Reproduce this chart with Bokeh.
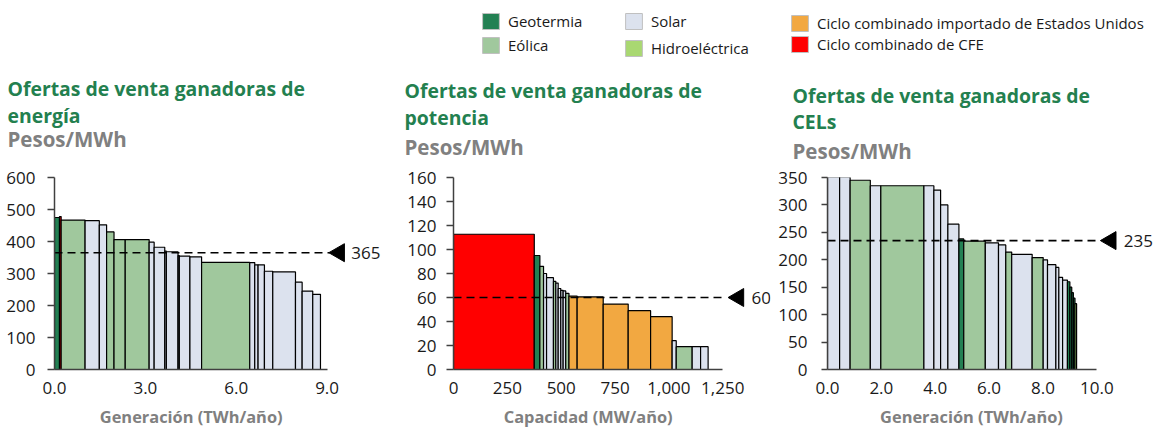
import math
import numpy as np
from bokeh.plotting import figure
from bokeh.models import (Label, Legend, LegendItem, FixedTicker, NumeralTickFormatter,
                          ColumnDataSource, Range1d)
from bokeh.layouts import column, row
from bokeh.embed import file_html
from bokeh.resources import INLINE

# ---------------- data ----------------
tech_names = ["Geotermia", "Eólica", "Solar", "Hidroeléctrica",
              "Ciclo combinado importado de Estados Unidos", "Ciclo combinado de CFE"]
tech_colors = ["#238053", "#A0C89D", "#DCE2EE", "#A9D871", "#F2A841", "#FF0000"]

# Energy (TWh/año vs Pesos/MWh)
e_width = [0.165, 0.055, 0.79, 0.47, 0.24, 0.245, 0.37, 0.79, 0.165, 0.35, 0.053, 0.385,
           0.043, 0.35, 0.385, 1.59, 0.165, 0.11, 0.21, 0.275, 0.75, 0.22, 0.35, 0.255]
e_price = [475, 478, 467, 465, 452, 430, 406, 406, 398, 382, 370, 368,
           356, 354, 352, 335, 334, 327, 327, 307, 305, 273, 245, 235]
e_tech = ["Geotermia", "Ciclo combinado de CFE", "Eólica", "Solar", "Solar", "Eólica", "Eólica",
          "Eólica", "Solar", "Solar", "Solar", "Solar", "Solar", "Solar", "Solar", "Eólica",
          "Solar", "Solar", "Solar", "Solar", "Solar", "Solar", "Solar", "Solar"]
e_ref = 365

# Capacity (MW/año vs Pesos/MWh)
c_width = [375, 26, 17, 14, 32, 11, 11, 12, 11, 12, 15, 38, 121, 116, 104, 100, 19, 74, 39, 35]
c_price = [112.7, 95, 86, 80, 76.5, 73.5, 72, 67.5, 66, 65.5, 63.5, 61.2, 60.5, 54.5, 49, 44,
           24, 19, 19, 19]
c_tech = ["Ciclo combinado de CFE", "Geotermia", "Eólica", "Solar", "Solar", "Eólica", "Solar",
          "Solar", "Solar", "Solar", "Eólica",
          "Ciclo combinado importado de Estados Unidos",
          "Ciclo combinado importado de Estados Unidos",
          "Ciclo combinado importado de Estados Unidos",
          "Ciclo combinado importado de Estados Unidos",
          "Ciclo combinado importado de Estados Unidos",
          "Solar", "Eólica", "Solar", "Solar"]
c_ref = 60

# CELs (TWh/año vs Pesos/MWh)
l_width = [0.45, 0.39, 0.75, 0.39, 1.6, 0.37, 0.25, 0.27, 0.41, 0.18, 0.8, 0.49, 0.27, 0.22,
           0.76, 0.41, 0.16, 0.31, 0.11, 0.14, 0.18, 0.09, 0.07, 0.06, 0.06, 0.06]
l_price = [351, 351, 345, 335, 335, 335, 327, 300, 265, 238, 234, 231, 227, 214,
           210, 204, 200, 191, 186, 168, 163, 160, 150, 140, 130, 120]
l_tech = ["Solar", "Solar", "Eólica", "Solar", "Eólica", "Solar", "Solar", "Solar", "Solar",
          "Geotermia", "Eólica", "Solar", "Solar", "Eólica", "Solar", "Eólica", "Solar", "Solar",
          "Solar", "Solar", "Solar", "Geotermia", "Geotermia", "Geotermia", "Geotermia",
          "Hidroeléctrica"]
l_ref = 235

title_line1 = "Ofertas de venta ganadoras de"
titles2 = ["energía", "potencia", "CELs"]
units = "Pesos/MWh"
xlabels = ["Generación (TWh/año)", "Capacidad (MW/año)", "Generación (TWh/año)"]
e_xticks = [0, 3, 6, 9]
c_xticks = [0, 250, 500, 750, 1000, 1250]
l_xticks = [0, 2, 4, 6, 8, 10]

# ---------------- styles ----------------
FONT = "Open Sans"
GREEN = "#23804F"
GRAY = "#808080"
TXT = "#1A1A1A"
AXIS = "#404040"
color_map = dict(zip(tech_names, tech_colors))
WIDTHS = [394, 381, 381]
LF_H = 69        # legend strip
TT_H = 95        # title strip
FRAME_H = 192
MB_TOP = 13
MB_BOTTOM = 35
XL_H = 23        # x-axis-title strip


def text_fig(w, h):
    f = figure(width=w, height=h, x_range=Range1d(0, w), y_range=Range1d(0, h),
               x_axis_location=None, y_axis_location=None, min_border=0,
               outline_line_color=None, toolbar_location=None, output_backend="svg")
    f.grid.visible = False
    return f


def panel(widths, prices, techs, ref, width, mb_left, mb_right, xmax, ymax, ystep,
          xticks, xfmt, xbound, dash_end, tri_x, lab_x, ystandoff, ytick_out):
    p = figure(width=width, height=FRAME_H + MB_TOP + MB_BOTTOM,
               x_range=Range1d(0, xmax), y_range=Range1d(0, ymax),
               output_backend="svg", toolbar_location=None,
               min_border_left=mb_left, min_border_right=mb_right,
               min_border_top=MB_TOP, min_border_bottom=MB_BOTTOM, outline_line_color=None)
    p.xgrid.visible = False
    p.ygrid.visible = False

    w = np.array(widths, dtype=float)
    right = np.cumsum(w)
    left = right - w
    src = ColumnDataSource(dict(left=left, right=right, top=prices,
                                bottom=np.zeros(len(w)),
                                color=[color_map[t] for t in techs]))
    p.quad(left="left", right="right", top="top", bottom="bottom", source=src,
           fill_color="color", line_color="black", line_width=1.2)

    # reference price
    p.segment(x0=[0], y0=[ref], x1=[dash_end], y1=[ref], line_color="black",
              line_width=1.6, line_dash="8 5")
    p.scatter(x=[tri_x], y=[ref], marker="triangle", size=18, angle=math.pi / 2,
              color="black")
    p.add_layout(Label(x=lab_x, y=ref, text=str(ref), text_font=FONT,
                       text_font_size="17px", text_color=TXT, text_baseline="middle",
                       text_align="left"))

    yax = p.yaxis[0]
    yax.ticker = FixedTicker(ticks=list(range(0, ymax + 1, ystep)))
    yax.major_tick_out = ytick_out
    yax.major_tick_in = 0
    yax.minor_tick_out = 0
    yax.minor_tick_in = 0
    yax.major_label_standoff = ystandoff
    yax.major_label_text_font = FONT
    yax.major_label_text_font_size = "17px"
    yax.major_label_text_color = TXT
    yax.axis_line_color = AXIS
    yax.axis_line_width = 1.5
    yax.major_tick_line_color = AXIS
    yax.major_tick_line_width = 1.5

    xax = p.xaxis[0]
    xax.ticker = FixedTicker(ticks=xticks)
    xax.formatter = NumeralTickFormatter(format=xfmt)
    xax.bounds = (0, xbound)
    xax.major_tick_out = 0
    xax.major_tick_in = 0
    xax.minor_tick_out = 0
    xax.minor_tick_in = 0
    xax.major_label_standoff = 12
    xax.major_label_text_font = FONT
    xax.major_label_text_font_size = "17px"
    xax.major_label_text_color = TXT
    xax.axis_line_color = AXIS
    xax.axis_line_width = 1.5
    return p


p1 = panel(e_width, e_price, e_tech, e_ref, WIDTHS[0], 54, 5, 11.06, 600, 100,
           e_xticks, "0.0", 9.0, 9.08, 9.4, 9.8, 12, 7)
p2 = panel(c_width, c_price, c_tech, c_ref, WIDTHS[1], 59, 5, 1471.6, 160, 20,
           c_xticks, "0,0", 1250, 1267, 1323, 1383, 10, 7)
p3 = panel(l_width, l_price, l_tech, l_ref, WIDTHS[2], 50, 1, 12.18, 350, 50,
           l_xticks, "0.0", 10, 10.04, 10.52, 11.0, 14, 6)

# ---------------- title strip ----------------
title_specs = [(7, [76, 49, 26]), (10, [74, 47.5, 17.5]), (17, [69.5, 43.5, 14])]
title_figs = []
for w, t2, (tx, tys) in zip(WIDTHS, titles2, title_specs):
    f = text_fig(w, TT_H)
    for txt, ty, col, fs in zip([title_line1, t2, units], tys, [GREEN, GREEN, GRAY],
                                ["19.4px", "19.4px", "20.5px"]):
        f.add_layout(Label(x=tx, y=ty, text=txt, text_font=FONT, text_font_size=fs,
                           text_font_style="bold", text_color=col,
                           text_baseline="middle", text_align="left"))
    title_figs.append(f)

# ---------------- x-axis-title strip ----------------
xl_centers = [190.7, 193.7, 196]
xl_figs = []
for w, txt, cx in zip(WIDTHS, xlabels, xl_centers):
    f = text_fig(w, XL_H)
    f.add_layout(Label(x=cx, y=11.5, text=txt, text_font=FONT, text_font_size="16.4px",
                       text_font_style="bold", text_color=GRAY,
                       text_baseline="middle", text_align="center"))
    xl_figs.append(f)

# ---------------- legend strip ----------------
lf = text_fig(sum(WIDTHS), LF_H)
rends = {}
for name, colr in zip(tech_names, tech_colors):
    # off-screen stand-in glyphs that only feed the legend swatches
    rends[name] = lf.quad(left=[-20], right=[-10], top=[-10], bottom=[-20], fill_color=colr,
                          line_color="#C0C0C0", line_width=1)

ROW_H = 21
# (names, left px, top px, spacing)
groups = [(tech_names[0:2], 480, 9, 4), (tech_names[2:4], 623, 9, 7),
          (tech_names[4:6], 789, 11, 1)]
for names, lx, top, sp in groups:
    h = ROW_H * len(names) + sp * (len(names) - 1)
    leg = Legend(items=[LegendItem(label=n, renderers=[rends[n]]) for n in names],
                 location=(lx, LF_H - top - h), orientation="vertical", padding=0, margin=0,
                 spacing=sp, glyph_width=21, glyph_height=20, label_height=20,
                 label_standoff=7, border_line_alpha=0, background_fill_alpha=0,
                 label_text_font=FONT, label_text_font_size="15px",
                 label_text_color=TXT)
    lf.add_layout(leg)

layout = column(lf, row(*title_figs), row(p1, p2, p3), row(*xl_figs))
open("out.html", "w").write(file_html(layout, INLINE))
